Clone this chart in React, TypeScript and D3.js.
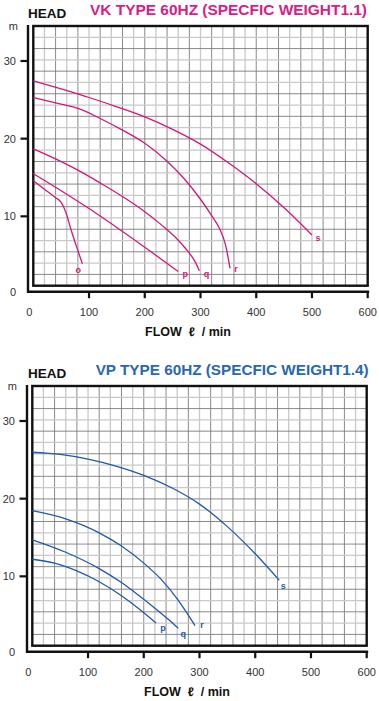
import React from "react";
import * as d3 from "d3";

// ---- data ----
const xTicks = [0, 100, 200, 300, 400, 500, 600];
const yTicks = [0, 10, 20, 30];

const vkTitle = "VK TYPE 60HZ (SPECFIC WEIGHT1.1)";
const vpTitle = "VP TYPE 60HZ (SPECFIC WEIGHT1.4)";

const vkNames = ["o", "p", "q", "r", "s"];
const vkFlowO = [0, 20, 40, 50, 58, 68, 78, 88];
const vkHeadO = [14.6, 13.5, 12.4, 11.8, 10.6, 8.2, 6.0, 3.9];
const vkFlowP = [0, 50, 100, 155, 210, 260];
const vkHeadP = [15.5, 13.3, 11.0, 8.3, 5.5, 2.9];
const vkFlowQ = [0, 40, 80, 120, 160, 200, 230, 255, 275, 290, 298];
const vkHeadQ = [18.7, 17.4, 15.95, 14.3, 12.55, 10.6, 8.9, 7.3, 5.7, 4.2, 3.0];
const vkFlowR = [0, 40, 84, 120, 160, 200, 240, 270, 300, 320, 335, 345, 353];
const vkHeadR = [25.3, 24.6, 23.8, 22.6, 21.1, 19.4, 17.1, 14.9, 12.2, 10.1, 8.3, 6.3, 3.3];
const vkFlowS = [0, 50, 100, 150, 200, 250, 300, 350, 400, 450, 500];
const vkHeadS = [27.45, 26.4, 25.3, 24.1, 22.8, 21.2, 19.3, 16.9, 14.2, 11.1, 7.6];

const vpNames = ["p", "q", "r", "s"];
const vpFlowP = [0, 40, 80, 120, 160, 190, 222];
const vpHeadP = [12.2, 11.7, 10.7, 9.3, 7.5, 5.9, 4.0];
const vpFlowQ = [0, 60, 120, 160, 190, 220, 245, 262];
const vpHeadQ = [14.7, 13.1, 11.0, 9.2, 7.6, 5.9, 4.4, 3.3];
const vpFlowR = [0, 60, 120, 160, 200, 230, 260, 292];
const vpHeadR = [18.45, 17.4, 15.6, 13.9, 11.7, 9.7, 7.1, 3.65];
const vpFlowS = [0, 50, 100, 150, 200, 250, 300, 350, 400, 443];
const vpHeadS = [26.0, 25.7, 25.1, 24.2, 23.0, 21.4, 19.3, 16.4, 12.9, 9.5];

// ---- layout / style ----
const FONT = "'Liberation Sans', Arial, Helvetica, sans-serif";
const MAGENTA = "#d2167d";
const MAGENTA_T = "#d81d86";
const BLUE = "#1f5aa6";
const BLUE_T = "#2767b3";

type Series = { name: string; flow: number[]; head: number[]; lx: number; ly: number };

const vkSeries: Series[] = [
  { name: vkNames[0], flow: vkFlowO, head: vkHeadO, lx: -4, ly: 9 },
  { name: vkNames[1], flow: vkFlowP, head: vkHeadP, lx: 7, ly: 6 },
  { name: vkNames[2], flow: vkFlowQ, head: vkHeadQ, lx: 7, ly: 6 },
  { name: vkNames[3], flow: vkFlowR, head: vkHeadR, lx: 6, ly: 4 },
  { name: vkNames[4], flow: vkFlowS, head: vkHeadS, lx: 6, ly: 6 },
];
const vpSeries: Series[] = [
  { name: vpNames[0], flow: vpFlowP, head: vpHeadP, lx: 7, ly: 8 },
  { name: vpNames[1], flow: vpFlowQ, head: vpHeadQ, lx: 5, ly: 9 },
  { name: vpNames[2], flow: vpFlowR, head: vpHeadR, lx: 7, ly: 2 },
  { name: vpNames[3], flow: vpFlowS, head: vpHeadS, lx: 4, ly: 9 },
];

function Chart({
  oy,
  dx,
  title,
  titleX,
  titleLen,
  color,
  titleColor,
  series,
}: {
  oy: number;
  dx: number;
  title: string;
  titleX: number;
  titleLen: number;
  color: string;
  titleColor: string;
  series: Series[];
}) {
  const boxL = 33.3 + dx;
  const boxR = 367.7 + dx;
  const boxT = 26 + oy;
  const boxB = 285.7 + oy;
  const axisX = 28 + dx;
  const axisY = 291.7 + oy;

  const x = d3.scaleLinear().domain([0, 600]).range([boxL, boxR]);
  const y = d3.scaleLinear().domain([0, 30]).range([294 + oy, 61 + oy]);

  const cols = 30;
  const rows = 23;
  const vLines = d3.range(1, cols).map((i) => boxL + ((boxR - boxL) * i) / cols);
  const hLines = d3.range(1, rows).map((i) => boxT + ((boxB - boxT) * i) / rows);

  const line = d3
    .line<[number, number]>()
    .x((d) => x(d[0]))
    .y((d) => y(d[1]))
    .curve(d3.curveMonotoneX);

  return (
    <g>
      <text x={28} y={18.3 + oy} fontFamily={FONT} fontWeight="bold" fontSize={13.5} fill="#111">
        HEAD
      </text>
      <text
        x={titleX}
        y={15 + oy}
        fontFamily={FONT}
        fontWeight="bold"
        fontSize={15.4}
        fill={titleColor}
        textLength={titleLen}
        lengthAdjust="spacingAndGlyphs"
      >
        {title}
      </text>
      <text x={13.3 + dx} y={29.5 + oy} fontFamily={FONT} fontSize={11} fill="#333" textAnchor="middle">
        m
      </text>

      {/* grid */}
      {vLines.map((vx, i) => (
        <line
          key={"v" + i}
          x1={vx}
          x2={vx}
          y1={boxT}
          y2={boxB}
          stroke={i % 2 === 0 ? "#c9c9c9" : "#7d7d7d"}
          strokeWidth={i % 2 === 0 ? 1.3 : 0.9}
        />
      ))}
      {hLines.map((hy, i) => (
        <line
          key={"h" + i}
          x1={boxL}
          x2={boxR}
          y1={hy}
          y2={hy}
          stroke={i % 2 === 0 ? "#c9c9c9" : "#7d7d7d"}
          strokeWidth={i % 2 === 0 ? 1.3 : 0.9}
        />
      ))}
      <rect x={boxL} y={boxT} width={boxR - boxL} height={boxB - boxT} fill="none" stroke="#111" strokeWidth={2.4} />

      {/* axes */}
      <line x1={axisX} x2={axisX} y1={25 + oy} y2={axisY + 1} stroke="#111" strokeWidth={2.4} />
      <line x1={axisX - 1} x2={boxR + 1.5} y1={axisY} y2={axisY} stroke="#111" strokeWidth={2.4} />
      {yTicks
        .filter((t) => t > 0)
        .map((t) => (
          <line key={"yt" + t} x1={20.5 + dx} x2={axisX} y1={y(t)} y2={y(t)} stroke="#111" strokeWidth={2.2} />
        ))}
      {yTicks.map((t) => (
        <text
          key={"yl" + t}
          x={16 + dx}
          y={t === 0 ? axisY : y(t)}
          dy="0.36em"
          textAnchor="end"
          fontFamily={FONT}
          fontSize={11}
          fill="#333"
        >
          {t}
        </text>
      ))}
      {xTicks
        .filter((t) => t > 0)
        .map((t) => (
          <line key={"xt" + t} x1={x(t)} x2={x(t)} y1={axisY} y2={axisY + 6.5} stroke="#111" strokeWidth={2.2} />
        ))}
      {xTicks.map((t) => (
        <text
          key={"xl" + t}
          x={t === 0 ? x(t) - 4 : x(t)}
          y={311.7 + oy}
          dy="0.36em"
          textAnchor="middle"
          fontFamily={FONT}
          fontSize={11}
          fill="#333"
        >
          {t}
        </text>
      ))}
      <text
        x={188 + dx}
        y={336 + oy}
        textAnchor="middle"
        fontFamily={FONT}
        fontWeight="bold"
        fontSize={12.5}
        fill="#111"
        style={{ whiteSpace: "pre" }}
      >
        {"FLOW  ℓ  / min"}
      </text>

      {/* curves */}
      {series.map((s) => {
        const pts = s.flow.map((f, i) => [f, s.head[i]] as [number, number]);
        const last = pts[pts.length - 1];
        return (
          <g key={s.name}>
            <path d={line(pts) || ""} fill="none" stroke={color} strokeWidth={1.3} />
            <text
              x={x(last[0]) + s.lx}
              y={y(last[1]) + s.ly}
              textAnchor="middle"
              fontFamily={FONT}
              fontWeight="bold"
              fontSize={9}
              fill={color}
            >
              {s.name}
            </text>
          </g>
        );
      })}
    </g>
  );
}

export default function App() {
  return (
    <svg
      width={379}
      height={701}
      viewBox="0 0 379 701"
      style={{ position: "absolute", left: 0, top: 0, background: "#fff" }}
    >
      <rect x={0} y={0} width={379} height={701} fill="#fff" />
      <Chart
        oy={0}
        dx={0}
        title={vkTitle}
        titleX={90}
        titleLen={277}
        color={MAGENTA}
        titleColor={MAGENTA_T}
        series={vkSeries}
      />
      <Chart
        oy={360}
        dx={-1}
        title={vpTitle}
        titleX={95.7}
        titleLen={273}
        color={BLUE}
        titleColor={BLUE_T}
        series={vpSeries}
      />
    </svg>
  );
}
